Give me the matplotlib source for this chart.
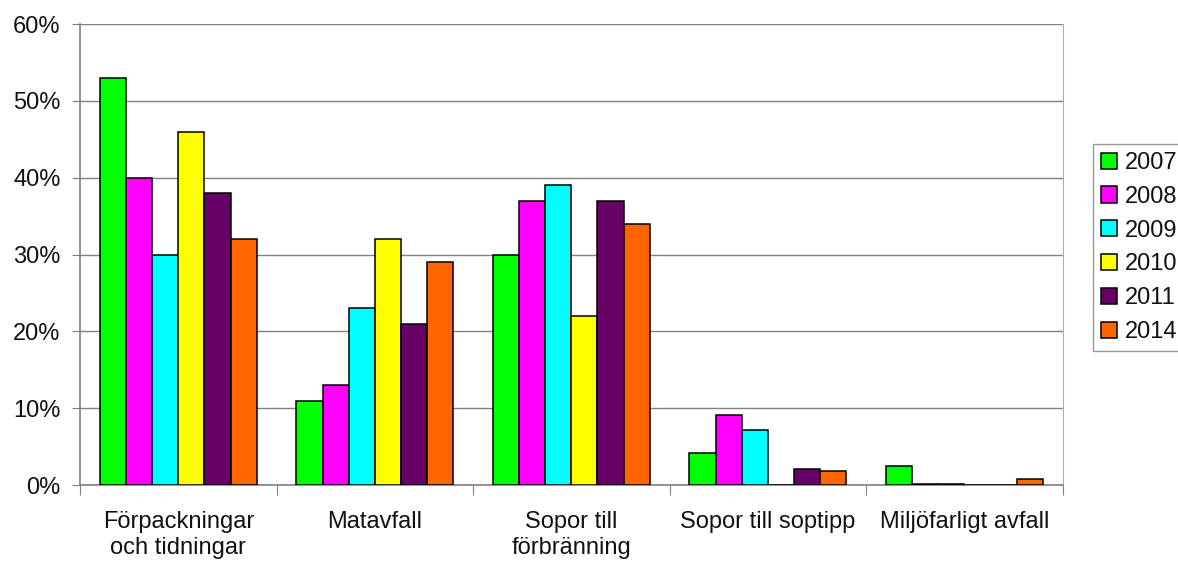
import numpy as np
import matplotlib.pyplot as plt
from matplotlib.ticker import FuncFormatter

plt.rcParams['font.family'] = ['Liberation Sans', 'DejaVu Sans']

# ── data ───────────────────────────────────
categories = ["Förpackningar\noch tidningar", "Matavfall", "Sopor till\nförbränning",
              "Sopor till soptipp", "Miljöfarligt avfall"]
years = ["2007", "2008", "2009", "2010", "2011", "2014"]
v2007 = [53, 11, 30, 4.2, 2.5]
v2008 = [40, 13, 37, 9.1, 0.1]
v2009 = [30, 23, 39, 7.2, 0.1]
v2010 = [46, 32, 22, 0, 0]
v2011 = [38, 21, 37, 2.1, 0]
v2014 = [32, 29, 34, 1.8, 0.8]
colors = ["#00FF00", "#FF00FF", "#00FFFF", "#FFFF00", "#660066", "#FF6600"]

series = [v2007, v2008, v2009, v2010, v2011, v2014]

# ── plot ───────────────────────────────────
fig = plt.figure(figsize=(11.78, 5.62), dpi=100)
ax = fig.add_axes([0.068, 0.137, 0.834, 0.820])

x = np.arange(len(categories))
w = 0.133
for i, (vals, col, yr) in enumerate(zip(series, colors, years)):
    ax.bar(x + (i - 2.5) * w, vals, width=w, color=col, edgecolor="black",
           linewidth=1.1, label=yr, zorder=3)

ax.set_xlim(-0.5, len(categories) - 0.5)
ax.set_ylim(0, 60)
ax.set_yticks(range(0, 61, 10))
ax.yaxis.set_major_formatter(FuncFormatter(lambda v, p: f"{int(v)}%"))
ax.yaxis.grid(True, color="#808080", linewidth=1.0, zorder=0)

ax.set_xticks(np.arange(-0.5, len(categories)), labels=[])
ax.set_xticks(x, labels=categories, minor=True)
ax.tick_params(axis="x", which="major", length=7, color="#808080", direction="out")
ax.tick_params(axis="x", which="minor", length=0, pad=19, labelsize=17,
               labelcolor="#111111")
for lbl in ax.get_xticklabels(minor=True):
    lbl.set_linespacing(1.2)
ax.tick_params(axis="y", length=6, color="#808080", labelsize=17, pad=8,
               labelcolor="#111111")

for s in ["left", "bottom"]:
    ax.spines[s].set_color("#808080")
    ax.spines[s].set_linewidth(1.2)
ax.spines["right"].set_color("#b0b0b0")
ax.spines["top"].set_visible(False)

leg = fig.legend(loc="upper left", bbox_to_anchor=(0.928, 0.744), fontsize=17,
                 frameon=True, fancybox=False, edgecolor="#808080",
                 borderaxespad=0, handlelength=0.68, handleheight=0.68,
                 handletextpad=0.34, labelspacing=0.5, borderpad=0.34)
for t in leg.get_texts():
    t.set_color("#111111")

fig.savefig("out.png", dpi=100)
